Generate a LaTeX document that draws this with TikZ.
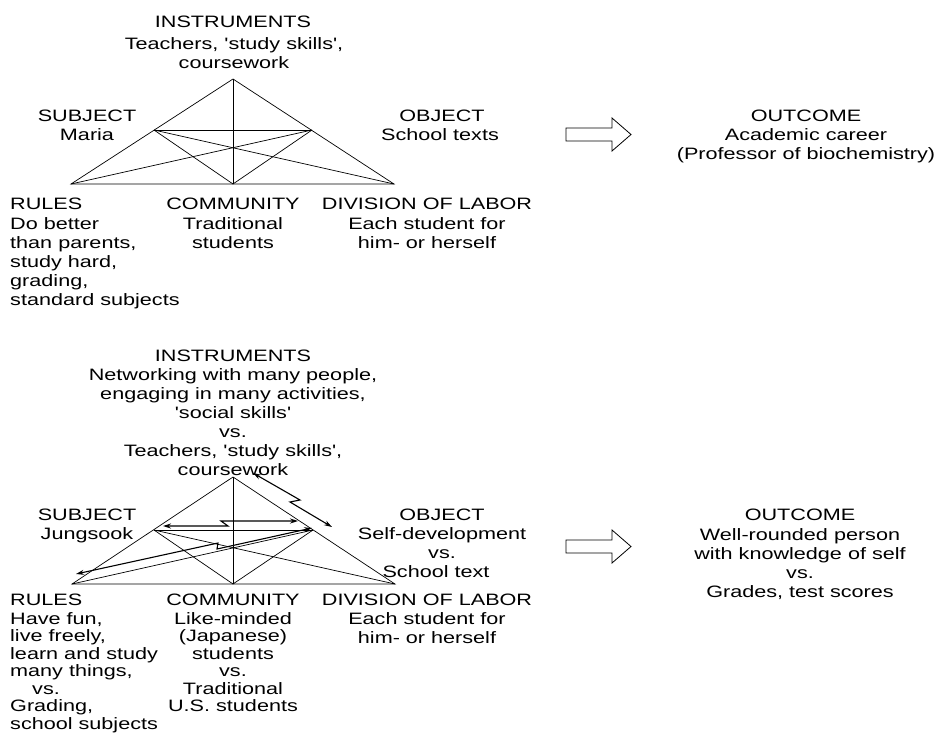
\documentclass[tikz,border=0pt]{standalone}
\usepackage{fontspec}
\setmainfont[FakeStretch=1.31,Ligatures=TeXOff]{Liberation Sans}
\usetikzlibrary{arrows.meta}
\newcommand\mkblk[2]{\begin{tabular}[t]{@{}#1@{}}#2\end{tabular}}
\begin{document}
\begin{tikzpicture}[x=1pt,y=-1pt,
  lbl/.style={inner sep=0pt, anchor=base, font=\fontsize{16.5}{19}\selectfont},
  lblw/.style={lbl, anchor=base west},
  tight/.style={font=\fontsize{16.5}{17.5}\selectfont},
  tri/.style={line width=0.7pt},
  zap/.style={line width=1.1pt, {Stealth[length=8pt,width=5pt]}-{Stealth[length=8pt,width=5pt]}},
  fat/.style={line width=0.8pt, fill=white, line join=miter}]
\useasboundingbox (0,0) rectangle (934,734);

% ---------- top triangle ----------
\coordinate (tA) at (233,79);
\coordinate (tL) at (71,184);
\coordinate (tR) at (394,184);
\coordinate (tC) at (233,184);
\coordinate (tS) at (154,130);
\coordinate (tO) at (312,130);
\draw[tri] (tL) -- (tA) -- (tR) -- cycle;
\draw[tri] (tA) -- (tC);
\draw[tri] (tS) -- (tO);
\draw[tri] (tS) -- (tC) -- (tO);
\draw[tri] (tS) -- (tR);
\draw[tri] (tO) -- (tL);

% ---------- bottom triangle ----------
\coordinate (bA) at (233,477);
\coordinate (bL) at (72,584);
\coordinate (bR) at (395,584);
\coordinate (bC) at (233,584);
\coordinate (bS) at (154,530);
\coordinate (bO) at (313,530);
\draw[tri] (bL) -- (bA) -- (bR) -- cycle;
\draw[tri] (bA) -- (bC);
\draw[tri] (bS) -- (bO);
\draw[tri] (bS) -- (bC) -- (bO);
\draw[tri] (bS) -- (bR);
\draw[tri] (bO) -- (bL);

% ---------- contradiction arrows ----------
\coordinate (z1a) at (253,473);
\coordinate (z1b) at (300,500);
\coordinate (z1c) at (290,502);
\coordinate (z1d) at (332,527);
\draw[zap] (z1a) -- (z1b) -- (z1c) -- (z1d);
\coordinate (z2a) at (163,526);
\coordinate (z2b) at (228,526);
\coordinate (z2c) at (221,521);
\coordinate (z2d) at (298,521);
\draw[zap] (z2a) -- (z2b) -- (z2c) -- (z2d);
\coordinate (z3a) at (76,574);
\coordinate (z3b) at (218,543);
\coordinate (z3c) at (217,549);
\coordinate (z3d) at (312,528);
\draw[zap] (z3a) -- (z3b) -- (z3c) -- (z3d);

% ---------- block arrows ----------
\draw[fat] (566,128) -- (612,128) -- (612,118) -- (631,134.5) -- (612,151) -- (612,141) -- (566,141) -- cycle;
\draw[fat] (566,540) -- (612,540) -- (612,530) -- (631,546.5) -- (612,563) -- (612,553) -- (566,553) -- cycle;

% ---------- top labels ----------
\node[lbl] (tinsH) at (233,27) {INSTRUMENTS};
\node[lbl] (tins) at (234,49) {\mkblk{c}{Teachers, 'study skills',\\coursework}};
\node[lbl] (tsubH) at (87,121) {SUBJECT};
\node[lbl] (tsub) at (87,140) {Maria};
\node[lbl] (tobjH) at (442,121) {OBJECT};
\node[lbl] (tobj) at (440,140) {School texts};
\node[lblw] (trulH) at (10,209) {RULES};
\node[lblw] (trul) at (10,229) {\mkblk{l}{Do better\\than parents,\\study hard,\\grading,\\standard subjects}};
\node[lbl] (tcomH) at (233,209) {COMMUNITY};
\node[lbl] (tcom) at (233,229) {\mkblk{c}{Traditional\\students}};
\node[lbl] (tdivH) at (427,209) {DIVISION OF LABOR};
\node[lbl] (tdiv) at (427,229) {\mkblk{c}{Each student for\\him- or herself}};
\node[lbl] (toutH) at (806,121) {OUTCOME};
\node[lbl] (tout) at (806,140) {\mkblk{c}{Academic career\\(Professor of biochemistry)}};

% ---------- bottom labels ----------
\node[lbl] (binsH) at (233,361) {INSTRUMENTS};
\node[lbl] (bins) at (233,380) {\mkblk{c}{Networking with many people,\\engaging in many activities,\\'social skills'\\vs.\\Teachers, 'study skills',\\coursework}};
\node[lbl] (bsubH) at (87,520) {SUBJECT};
\node[lbl] (bsub) at (87,539) {Jungsook};
\node[lbl] (bobjH) at (442,520) {OBJECT};
\node[lbl] (bobj) at (442,539) {\mkblk{c}{Self-development\\vs.}};
\node[lbl] (bobj2) at (436,577) {School text};
\node[lblw] (brulH) at (10,605) {RULES};
\node[lblw,tight] (brul) at (10,624) {\mkblk{l}{Have fun,\\live freely,\\learn and study\\many things,\\\hspace*{22pt}vs.\\Grading,\\school subjects}};
\node[lbl] (bcomH) at (233,605) {COMMUNITY};
\node[lbl,tight] (bcom) at (233,624) {\mkblk{c}{Like-minded\\(Japanese)\\students\\vs.\\Traditional\\U.S. students}};
\node[lbl] (bdivH) at (427,605) {DIVISION OF LABOR};
\node[lbl] (bdiv) at (427,624) {\mkblk{c}{Each student for\\him- or herself}};
\node[lbl] (boutH) at (800,520) {OUTCOME};
\node[lbl] (bout) at (800,540) {\mkblk{c}{Well-rounded person\\with knowledge of self\\vs.\\Grades, test scores}};
\end{tikzpicture}
\end{document}
